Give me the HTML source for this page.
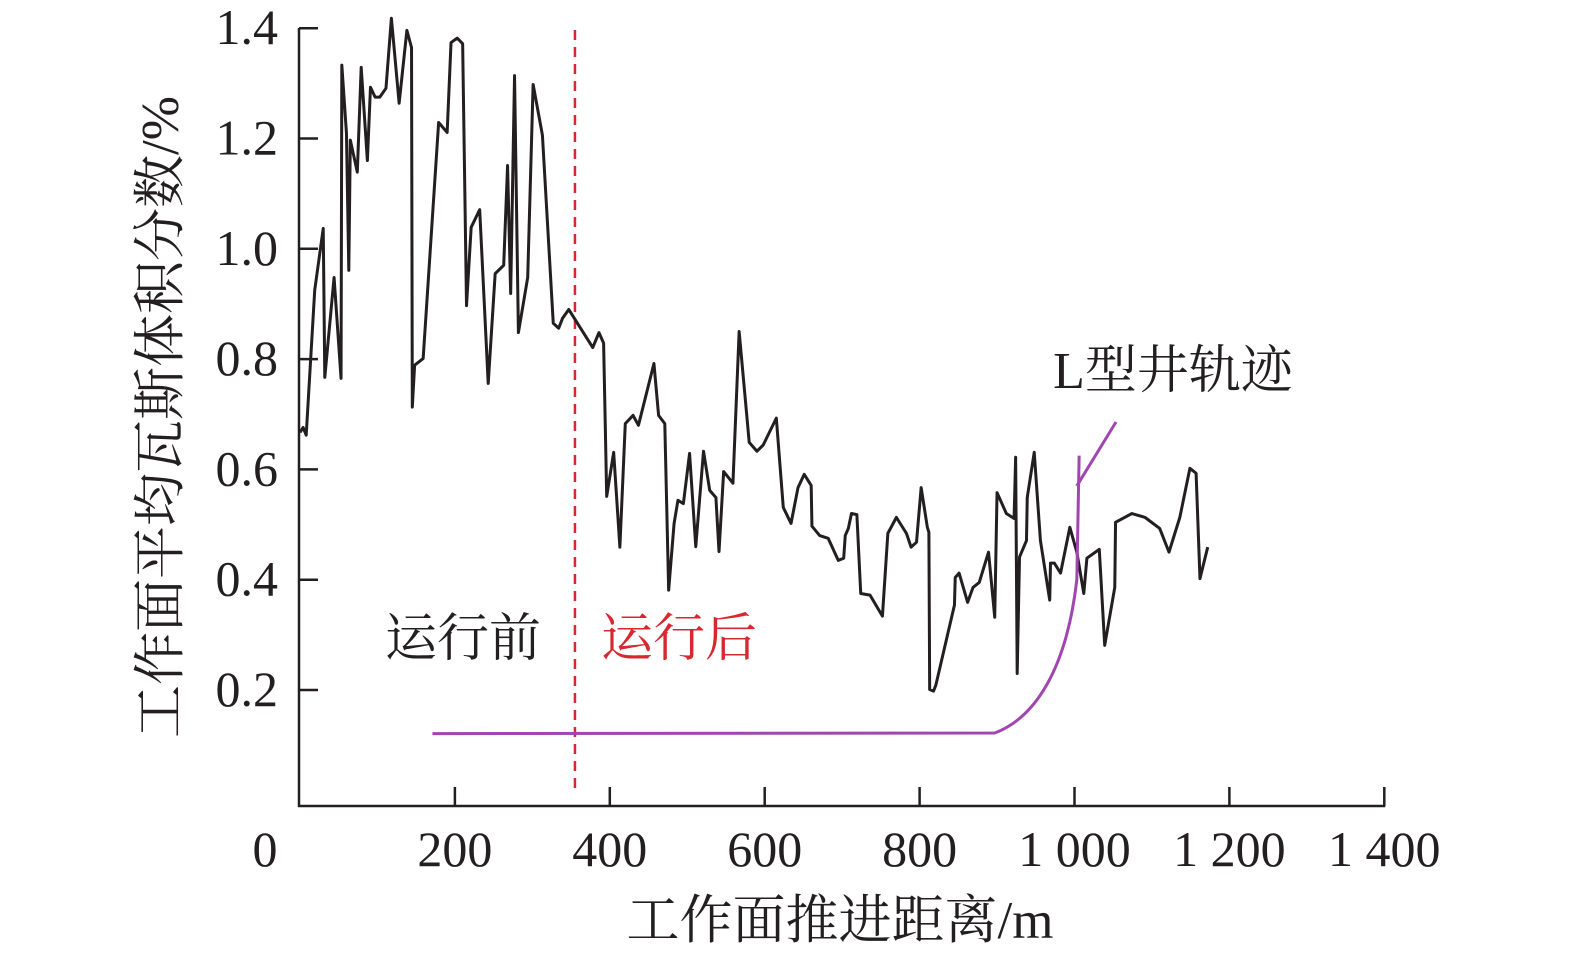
<!DOCTYPE html>
<html><head><meta charset="utf-8"><style>
html,body{margin:0;padding:0;background:#fff;}
svg{display:block;}
text{font-family:"Liberation Serif","Noto Serif CJK SC",serif;fill:#231f20;}
</style></head><body>
<svg id="chart" width="1575" height="958" viewBox="0 0 1575 958" xmlns="http://www.w3.org/2000/svg">
<g id="axes"></g>
<g id="marks"></g>
<text transform="translate(178,417) rotate(-90)" text-anchor="middle" font-size="53">工作面平均瓦斯体积分数/%</text>
<text x="840" y="938" text-anchor="middle" font-size="53">工作面推进距离/m</text>
<text x="463" y="656" text-anchor="middle" font-size="52">运行前</text>
<text x="679" y="656" text-anchor="middle" font-size="52" style="fill:#d7282f">运行后</text>
<text x="1173" y="388" text-anchor="middle" font-size="52">L型井轨迹</text>
</svg>
<script>
const xTicks = [0,200,400,600,800,1000,1200,1400];
const xTickLabels = ["0","200","400","600","800","1 000","1 200","1 400"];
const yTicks = [0.2,0.4,0.6,0.8,1.0,1.2,1.4];
const yTickLabels = ["0.2","0.4","0.6","0.8","1.0","1.2","1.4"];
const distance = [0,4,8,19,30,32,44,53,54,60,63,65,74,79,87,91,97,103,111,118,128,138,144,145,148,159,179,190,195,203,210,215,221,232,243,252,263,268,272,277,282,294,301,313,327,334,339,347,378,386,392,396,405,413,420,430,437,457,463,471,476,483,488,495,503,511,521,529,537,541,547,559,567,580,590,598,615,624,634,643,651,660,661,671,682,695,702,704,708,712,719,724,736,752,759,770,783,789,796,802,810,812,813,818,821,845,846,851,862,869,877,889,897,900,912,922,924,926,929,938,939,948,956,968,969,974,982,994,1003,1012,1016,1032,1039,1052,1053,1074,1091,1110,1122,1136,1149,1157,1162,1172];
const gasFraction = [0.667,0.676,0.662,0.925,1.037,0.767,0.948,0.765,1.333,1.209,0.961,1.197,1.139,1.329,1.160,1.293,1.275,1.275,1.291,1.418,1.264,1.396,1.365,0.713,0.789,0.801,1.229,1.211,1.374,1.382,1.372,0.897,1.039,1.071,0.756,0.955,0.970,1.151,0.919,1.314,0.848,0.948,1.298,1.206,0.865,0.856,0.874,0.890,0.821,0.848,0.829,0.551,0.631,0.459,0.683,0.698,0.680,0.792,0.698,0.683,0.381,0.502,0.544,0.538,0.629,0.460,0.633,0.562,0.549,0.451,0.596,0.575,0.850,0.649,0.633,0.644,0.693,0.531,0.502,0.567,0.591,0.571,0.497,0.480,0.475,0.435,0.439,0.480,0.493,0.520,0.518,0.375,0.372,0.334,0.484,0.513,0.484,0.459,0.468,0.567,0.495,0.486,0.201,0.198,0.209,0.354,0.404,0.412,0.359,0.386,0.395,0.450,0.332,0.558,0.520,0.511,0.622,0.230,0.441,0.471,0.549,0.631,0.471,0.363,0.430,0.430,0.412,0.495,0.450,0.375,0.439,0.455,0.281,0.386,0.504,0.520,0.513,0.493,0.450,0.513,0.602,0.593,0.402,0.459];
const wellX = [171,897,950,990,1003,1006];
const wellY = [0.121,0.122,0.150,0.240,0.400,0.625];
const dividerX = 355;

const X = v => 300 + v*0.7745;
const Y = v => 800.3 - v*551.5;
const NS = "http://www.w3.org/2000/svg";
function mk(tag, parent, attrs){const e=document.createElementNS(NS,tag);for(const k in attrs)e.setAttribute(k,attrs[k]);parent.appendChild(e);return e;}
const axes=document.getElementById('axes'), marks=document.getElementById('marks');
const baseY=806;

let a=mk('line',axes,{x1:299,y1:28,x2:299,y2:baseY+1,stroke:'#231f20','stroke-width':2.5});


a=mk('line',axes,{x1:298,y1:baseY,x2:X(1400)+1,y2:baseY,stroke:'#231f20','stroke-width':2.5});



xTicks.forEach((t,i)=>{
  if(t>0){const l=mk('line',axes,{x1:X(t),y1:baseY,x2:X(t),y2:baseY-19,stroke:'#231f20','stroke-width':2.5});
  
  }
  const tx=mk('text',axes,{x:t===0?265:X(t),y:866,'text-anchor':'middle','font-size':50});
  tx.textContent=xTickLabels[i];
  
  
});
yTicks.forEach((t,i)=>{
  const l=mk('line',axes,{x1:299,y1:Y(t),x2:318,y2:Y(t),stroke:'#231f20','stroke-width':2.5});
  
  
  const tx=mk('text',axes,{x:278,y:Y(t)+16,'text-anchor':'end','font-size':50});
  tx.textContent=yTickLabels[i];
  
  
});

const dv=mk('line',marks,{x1:X(dividerX),y1:30,x2:X(dividerX),y2:790,stroke:'#d7282f','stroke-width':2.5,'stroke-dasharray':'10,7'});



const gp=mk('polyline',marks,{points:distance.map((d,i)=>X(d)+','+Y(gasFraction[i])).join(' '),fill:'none',stroke:'#231f20','stroke-width':3,'stroke-linejoin':'round'});



const p=wellX.map((x,i)=>[X(x),Y(wellY[i])]);
const d=`M${p[0][0]},${p[0][1]} L${p[1][0]},${p[1][1]} C${p[2][0]},${p[2][1]} ${p[3][0]},${p[3][1]} ${p[4][0]},${p[4][1]} L${p[5][0]},${p[5][1]}`;
const wp=mk('path',marks,{d:d,fill:'none',stroke:'#a146b0','stroke-width':3});


const lead=mk('line',marks,{x1:X(1003),y1:Y(0.57),x2:1116,y2:422,stroke:'#a146b0','stroke-width':3});


</script>
</body></html>
